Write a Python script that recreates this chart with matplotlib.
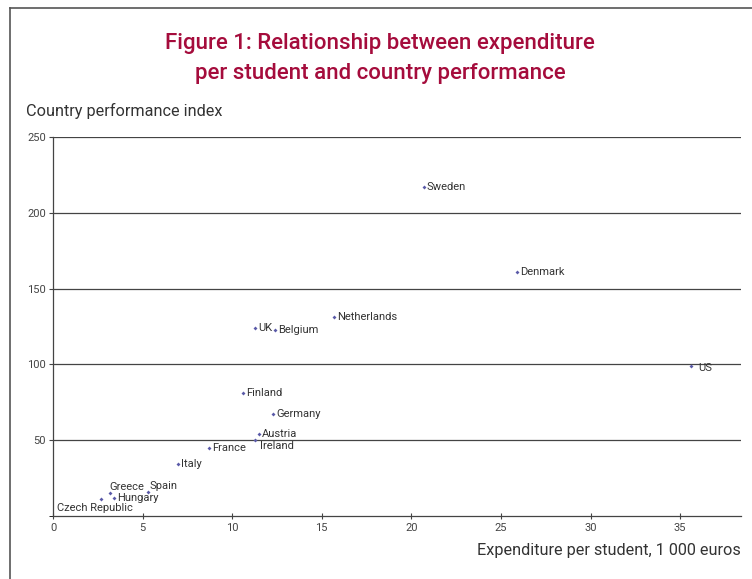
import matplotlib.pyplot as plt
from matplotlib.lines import Line2D

# data
paises = ['Sweden', 'Denmark', 'US', 'Netherlands', 'UK', 'Belgium', 'Finland',
          'Germany', 'Austria', 'Ireland', 'France', 'Italy', 'Greece', 'Spain',
          'Hungary', 'Czech Republic']
gasto = [20.7, 25.9, 35.6, 15.7, 11.3, 12.4, 10.6, 12.3, 11.5, 11.3, 8.7, 7.0,
         3.2, 5.3, 3.4, 2.7]
indice = [217, 161, 99, 131, 124, 123, 81, 67, 54, 50, 45, 34, 15, 16, 12, 11]

# label offsets (points) and alignment
offsets = {
    'US': (5.5, -1.5, 'left'),
    'Ireland': (3.5, -4.5, 'left'),
    'Greece': (-0.5, 4.5, 'left'),
    'Spain': (1, 4, 'left'),
    'Czech Republic': (-5, -6, 'center'),
}

plt.rcParams['font.family'] = ['Roboto', 'DejaVu Sans']

fig = plt.figure(figsize=(7.52, 5.79), dpi=100)
ax = fig.add_axes([0.0705, 0.1088, 0.9149, 0.6546])

ax.scatter(gasto, indice, s=4, marker='D', color='#5a5aa8', zorder=3, linewidths=0)
for p, x, y in zip(paises, gasto, indice):
    dx, dy, ha = offsets.get(p, (2, 0, 'left'))
    ax.annotate(p, (x, y), xytext=(dx, dy), textcoords='offset points',
                ha=ha, va='center', fontsize=8, color='#333333')

ax.set_xlim(0, 38.4)
ax.set_ylim(0, 250)
ax.set_xticks([0, 5, 10, 15, 20, 25, 30, 35])
ax.set_yticks([50, 100, 150, 200, 250])
ax.yaxis.grid(True, color='#444444', linewidth=0.9)
ax.set_axisbelow(True)
for s in ['top', 'right']:
    ax.spines[s].set_visible(False)
for s in ['left', 'bottom']:
    ax.spines[s].set_color('#444444')
    ax.spines[s].set_linewidth(0.9)
ax.tick_params(axis='x', direction='inout', length=4, labelsize=8, colors='#444444', pad=3)
ax.tick_params(axis='y', direction='out', length=3, labelsize=8, colors='#444444', pad=2)
ax.set_yticks([0], minor=True)
ax.tick_params(axis='y', which='minor', length=3)

fig.text(0.5055, 0.925, 'Figure 1: Relationship between expenditure',
         ha='center', va='center', fontsize=16, color='#a50c3c', fontweight='medium')
fig.text(0.5055, 0.873, 'per student and country performance',
         ha='center', va='center', fontsize=16, color='#a50c3c', fontweight='medium')
fig.text(0.035, 0.808, 'Country performance index', ha='left', va='center',
         fontsize=11.7, color='#333333')
fig.text(0.9854, 0.050, 'Expenditure per student, 1 000 euros', ha='right', va='center',
         fontsize=11.7, color='#333333')

# frame around figure
fig.add_artist(Line2D([0.013, 0.013], [0.0, 0.986], color='#555555', linewidth=1.2))
fig.add_artist(Line2D([0.013, 1.0], [0.986, 0.986], color='#555555', linewidth=1.2))

fig.savefig('out.png', dpi=100)
